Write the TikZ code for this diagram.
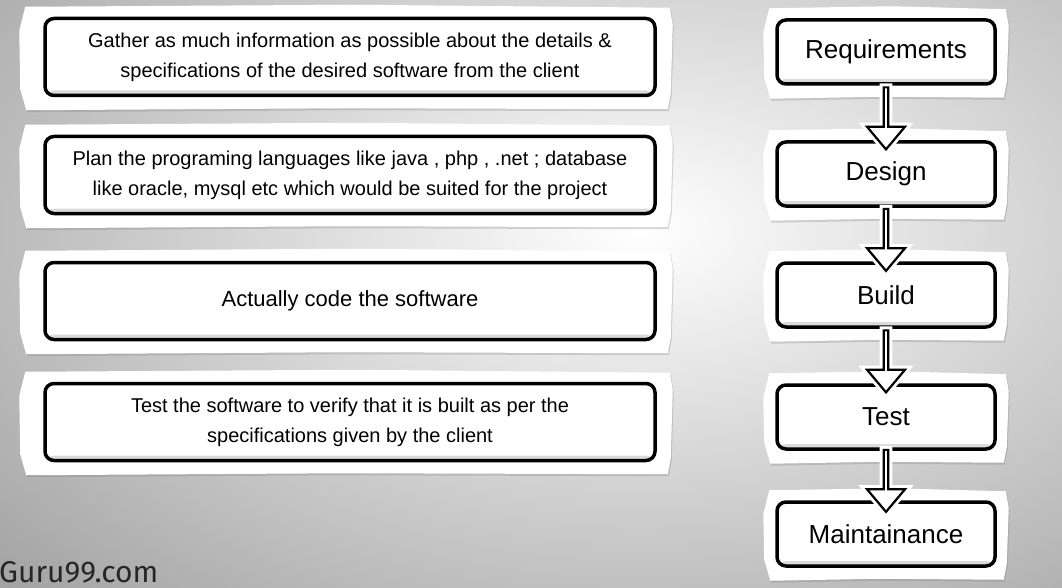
\documentclass[tikz,border=0pt]{standalone}
\usepackage{fontspec}
\setmainfont{Liberation Sans}
\newfontfamily\markfont{Fira Sans}
\usetikzlibrary{shapes.arrows,shadows,backgrounds,calc}

% white paper behind a box: node, extra left, extra right
\newcommand{\paper}[3]{%
  \fill[paper] ([shift={(-#2+5,-10)}]#1.north west) -- ([shift={(6,-12)}]#1.north)
    -- ([shift={(#3,-9)}]#1.north east) -- ([shift={(#3+3,8)}]#1.north east)
    -- ([shift={(#3+1,-4)}]#1.south east) -- ([shift={(#3-2,12)}]#1.south east)
    -- ([shift={(-5,11)}]#1.south) -- ([shift={(-#2+6,13)}]#1.south west)
    -- ([shift={(-#2,-8)}]#1.south west) -- ([shift={(-#2-1,14)}]#1.north west) -- cycle;}

\tikzset{
  notebox/.style={draw, line width=3.5pt, rounded corners=9pt, fill=white,
    minimum width=610pt, minimum height=77pt, align=center,
    font=\fontsize{20}{30}\selectfont,
    path picture={\fill[black!14] (path picture bounding box.south west)
      rectangle ([yshift=5pt]path picture bounding box.south east);}},
  phasebox/.style={notebox, minimum width=218pt, minimum height=64pt,
    font=\fontsize{26}{30}\selectfont},
  paper/.style={fill=white, drop shadow={opacity=.3, shadow xshift=1pt, shadow yshift=-2pt}},
  flowarrow/.style={single arrow, draw, line width=2.2pt, fill=white,
    shape border rotate=270, minimum width=38pt, minimum height=62pt,
    single arrow head extend=8pt, single arrow tip angle=80, inner sep=0pt,
    preaction={draw=white, line width=8pt}}
}

\begin{document}
\begin{tikzpicture}[x=1pt,y=-1pt]
  \useasboundingbox (0,0) rectangle (1062,588);

  % what happens in each phase
  \node[notebox] (gather) at (350,57) {Gather as much information as possible about the details \&\\specifications of the desired software from the client};
  \node[notebox] (plan) at (350,175) {Plan the programing languages like java , php , .net ; database\\like oracle, mysql etc which would be suited for the project};
  \node[notebox, font=\fontsize{22}{30}\selectfont] (code) at (350,301) {Actually code the software};
  \node[notebox] (verify) at (350,422) {Test the software to verify that it is built as per the\\specifications given by the client};

  % the phases
  \node[phasebox] (req) at (886,52) {Requirements};
  \node[phasebox] (des) at (886,174) {Design};
  \node[phasebox] (bld) at (886,295) {Build};
  \node[phasebox] (tst) at (886,417) {Test};
  \node[phasebox] (mnt) at (886,534) {Maintainance};

  \foreach \a/\b in {req/des, des/bld, bld/tst, tst/mnt}
    \node[flowarrow] (arr-\a) at ($(\a.south)!.5!(\b.north)+(0,4)$) {};

  \node[anchor=base west, inner sep=0pt, text=black!85, font=\markfont\fontsize{30}{30}\selectfont] (site) at (-1,582) {Guru99.com};

  \begin{scope}[on background layer]
    \fill[black!58] (0,0) rectangle (1062,588);
    \shade[inner color=white, outer color=black!58] (-760,-610) rectangle (2040,1070);
    \foreach \n in {gather, plan, code, verify}
      \paper{\n}{23}{13};
    \foreach \n in {req, des, bld, tst, mnt}
      \paper{\n}{11}{9};
  \end{scope}
\end{tikzpicture}
\end{document}
